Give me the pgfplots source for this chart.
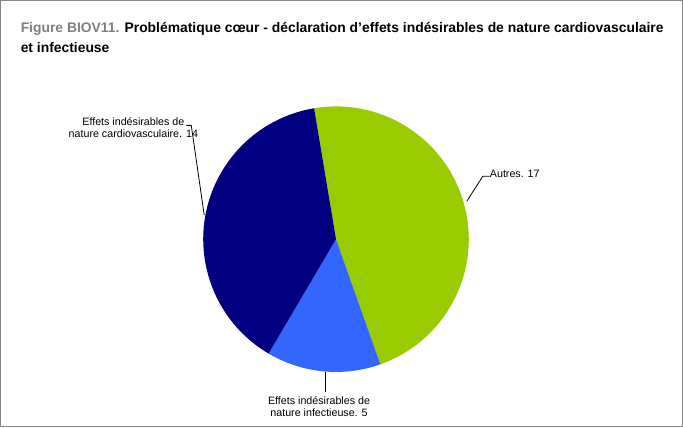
\documentclass[border=0pt]{standalone}
\usepackage{pgfplots}
\pgfplotsset{compat=1.18}
\usepackage{pgfplotstable}
\usepackage{fontspec}
\setmainfont{Liberation Sans}

\definecolor{autres}{HTML}{99CC00}
\definecolor{infect}{HTML}{3366FF}
\definecolor{cardio}{HTML}{000080}
\definecolor{frame}{HTML}{858585}

% slices, clockwise from the top
\pgfplotstableread{
slice value
autres 17
infect 5
cardio 14
}\piedata

\begin{document}
\begin{tikzpicture}
\pgfplotstablegetelem{0}{value}\of\piedata \let\va\pgfplotsretval
\pgfplotstablegetelem{1}{value}\of\piedata \let\vb\pgfplotsretval
\pgfplotstablegetelem{2}{value}\of\piedata \let\vc\pgfplotsretval
\pgfmathsetmacro\tot{\va+\vb+\vc}
\pgfmathsetmacro\aA{99.5}
\pgfmathsetmacro\aB{\aA-360*\va/\tot}
\pgfmathsetmacro\aC{\aB-360*\vb/\tot}
\pgfmathsetmacro\aD{\aC-360*\vc/\tot}
\def\R{133pt}
\begin{axis}[
    width=683pt, height=427pt,
    scale only axis,
    xmin=0, xmax=683,
    ymin=0, ymax=427,
    y dir=reverse,
    xtick=\empty, ytick=\empty,
    axis line style={frame, line width=1.2pt},
    clip=false,
  ]
  % wedges
  \fill[autres] (axis cs:336,239) -- ++(\aA:\R) arc[start angle=\aA, end angle=\aB, radius=\R] -- cycle;
  \fill[infect] (axis cs:336,239) -- ++(\aB:\R) arc[start angle=\aB, end angle=\aC, radius=\R] -- cycle;
  \fill[cardio] (axis cs:336,239) -- ++(\aC:\R) arc[start angle=\aC, end angle=\aD, radius=\R] -- cycle;

  % title
  \node[anchor=base west, font=\fontsize{13.9}{16}\selectfont\bfseries, inner sep=0]
    at (axis cs:20,32) {\textcolor{gray}{Figure BIOV11.} Problématique cœur - déclaration d’effets indésirables de nature cardiovasculaire};
  \node[anchor=base west, font=\fontsize{13.9}{16}\selectfont\bfseries, inner sep=0]
    at (axis cs:20,52) {et infectieuse};

  % leader lines
  \draw[black, line width=0.8pt] (axis cs:186,125) -- (axis cs:191,125) -- (axis cs:204,215);
  \draw[black, line width=0.8pt] (axis cs:490,176) -- (axis cs:483,176) -- (axis cs:467,201);
  \draw[black, line width=0.8pt] (axis cs:325,372) -- (axis cs:325,392);

  % labels
  \node[anchor=base, font=\fontsize{10.7}{12}\selectfont, inner sep=0] at (axis cs:133,125) {Effets indésirables de};
  \node[anchor=base, font=\fontsize{10.7}{12}\selectfont, inner sep=0] at (axis cs:133,137) {nature cardiovasculaire. 14};
  \node[anchor=base west, font=\fontsize{10.7}{12}\selectfont, inner sep=0] at (axis cs:490,177) {Autres. 17};
  \node[anchor=base, font=\fontsize{10.7}{12}\selectfont, inner sep=0] at (axis cs:319,405) {Effets indésirables de};
  \node[anchor=base, font=\fontsize{10.7}{12}\selectfont, inner sep=0] at (axis cs:319,417) {nature infectieuse. 5};
\end{axis}
\end{tikzpicture}
\end{document}
